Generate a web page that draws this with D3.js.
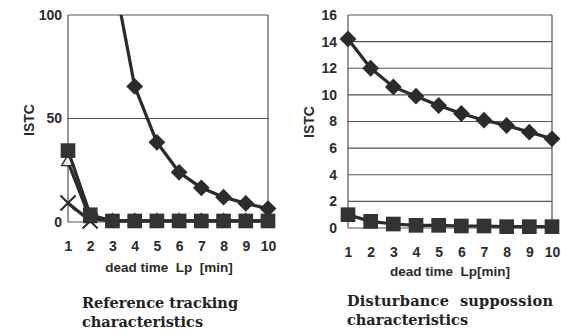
<!DOCTYPE html>
<html>
<head>
<meta charset="utf-8">
<script src="https://cdn.jsdelivr.net/npm/d3@7"></script>
<style>
  body { margin: 0; background: #fff; }
  svg { display: block; }
</style>
</head>
<body>
<div id="chart"></div>
<script>
const lags = [1, 2, 3, 4, 5, 6, 7, 8, 9, 10];

// Reference tracking (left)
const refDiamond = [null, null, 122, 65.5, 38.5, 24, 16.5, 12, 9, 6.5];
const refSquare = [34.5, 3.5, 0.5, 0.5, 0.5, 0.5, 0.5, 0.5, 0.5, 0.5];
const refTriangle = [29, 1.5, 0.5, 0.5, 0.5, 0.5, 0.5, 0.5, 0.5, 0.5];
const refCross = [9.2, 0.5];
const refTicks = [0, 50, 100];

// Disturbance suppression (right)
const distDiamond = [14.2, 12.0, 10.6, 9.9, 9.2, 8.6, 8.1, 7.7, 7.2, 6.7];
const distSquare = [1.0, 0.5, 0.3, 0.2, 0.2, 0.15, 0.15, 0.1, 0.1, 0.1];
const distTicks = [0, 2, 4, 6, 8, 10, 12, 14, 16];

const W = 561, H = 333;
const ink = "#2b2b2b";
const sans = "Liberation Sans, Arial, sans-serif";

const svg = d3.select("#chart").append("svg").attr("width", W).attr("height", H);

svg.append("defs").append("clipPath").attr("id", "clipL")
  .append("rect").attr("x", 0).attr("y", 15).attr("width", 290).attr("height", 230);

function panel(opts) {
  const x = d3.scaleLinear().domain([1, 10]).range(opts.xr);
  const y = d3.scaleLinear().domain(opts.yd).range(opts.yr);
  const g = svg.append("g");

  // grid
  g.append("g").selectAll("line")
    .data(opts.ticks.filter(t => t > 0))
    .join("line")
    .attr("x1", opts.xr[0]).attr("x2", opts.xr[1])
    .attr("y1", d => y(d)).attr("y2", d => y(d))
    .attr("stroke", "#555").attr("stroke-width", 1.2);

  // frame
  g.append("path")
    .attr("d", `M${opts.xr[0]},${opts.yr[0]}V${opts.yr[1]}M${opts.xr[1]},${opts.yr[1]}V${opts.yr[0]}H${opts.xr[0]}`)
    .attr("fill", "none").attr("stroke", "#555").attr("stroke-width", 1.2);

  // y axis labels
  const ya = g.append("g")
    .attr("transform", `translate(${opts.xr[0] - opts.ygap},0)`)
    .call(d3.axisLeft(y).tickValues(opts.ticks).tickSize(0).tickPadding(0));
  ya.select(".domain").remove();
  ya.selectAll("text").attr("font-family", sans)
    .attr("font-size", 14).attr("font-weight", "bold").attr("fill", ink);

  // x axis labels
  const xa = g.append("g")
    .attr("transform", `translate(0,${opts.yr[0] + 19})`)
    .call(d3.axisBottom(x).tickValues(lags).tickSize(0).tickPadding(0).tickFormat(d3.format("d")));
  xa.select(".domain").remove();
  xa.selectAll("text").attr("font-family", sans)
    .attr("font-size", 14).attr("font-weight", "bold").attr("fill", ink);

  // axis titles
  g.append("text")
    .attr("transform", `translate(${opts.ytx},${opts.yty}) rotate(-90)`)
    .attr("text-anchor", "middle")
    .attr("font-family", sans)
    .attr("font-size", 14).attr("font-weight", "bold").attr("fill", ink)
    .text("ISTC");

  g.append("text")
    .attr("x", opts.xtx).attr("y", opts.xty)
    .attr("text-anchor", "middle")
    .attr("font-family", sans)
    .attr("font-size", 13.5).attr("font-weight", "bold").attr("fill", ink)
    .attr("xml:space", "preserve")
    .text(opts.xlabel);

  const plot = g.append("g");
  if (opts.clip) plot.attr("clip-path", `url(#${opts.clip})`);

  const line = d3.line()
    .defined(d => d.v != null)
    .x(d => x(d.k)).y(d => y(d.v));

  opts.series.forEach(s => {
    const pts = s.values.map((v, i) => ({ k: lags[i], v }));
    plot.append("path")
      .datum(pts)
      .attr("d", line)
      .attr("fill", "none")
      .attr("stroke", ink)
      .attr("stroke-width", 3.2)
      .attr("stroke-linejoin", "round");

    const m = plot.append("g").selectAll("path")
      .data(pts.filter(d => d.v != null))
      .join("path")
      .attr("transform", d => `translate(${x(d.k)},${y(d.v)})`);

    if (s.shape === "diamond") {
      m.attr("d", d3.symbol(d3.symbolDiamond2, 180)).attr("fill", ink);
    } else if (s.shape === "square") {
      m.attr("d", d3.symbol(d3.symbolSquare, 215)).attr("fill", "#333");
    } else if (s.shape === "triangle") {
      m.attr("d", d3.symbol(d3.symbolTriangle, 70)).attr("fill", "#eee")
        .attr("stroke", ink).attr("stroke-width", 1.3);
    } else if (s.shape === "cross") {
      m.attr("d", d3.symbol(d3.symbolTimes, 150)).attr("fill", "none")
        .attr("stroke", ink).attr("stroke-width", 2);
    }
  });
}

panel({
  xr: [68, 268], yd: [0, 100], yr: [222, 15], ticks: refTicks, ygap: 6,
  ytx: 34, yty: 120, xtx: 169, xty: 272, xlabel: "dead time  Lp  [min]",
  clip: "clipL",
  series: [
    { values: refDiamond, shape: "diamond" },
    { values: refCross, shape: "cross" },
    { values: refTriangle, shape: "triangle" },
    { values: refSquare, shape: "square" }
  ]
});

panel({
  xr: [348, 552], yd: [0, 16], yr: [228, 15], ticks: distTicks, ygap: 11,
  ytx: 314, yty: 122, xtx: 450, xty: 276, xlabel: "dead time  Lp[min]",
  series: [
    { values: distDiamond, shape: "diamond" },
    { values: distSquare, shape: "square" }
  ]
});

// captions
const captions = [
  { x: 82, y: 308, t: "Reference tracking" },
  { x: 82, y: 327, t: "characteristics" },
  { x: 347, y: 306, t: "Disturbance  suppossion", len: 206 },
  { x: 347, y: 325, t: "characteristics" }
];
svg.append("g").selectAll("text")
  .data(captions)
  .join("text")
  .attr("x", d => d.x).attr("y", d => d.y)
  .attr("font-family", "DejaVu Serif, serif")
  .attr("font-size", 14.5).attr("font-weight", "bold").attr("fill", "#222")
  .attr("xml:space", "preserve")
  .attr("textLength", d => d.len || null)
  .text(d => d.t);
</script>
</body>
</html>
